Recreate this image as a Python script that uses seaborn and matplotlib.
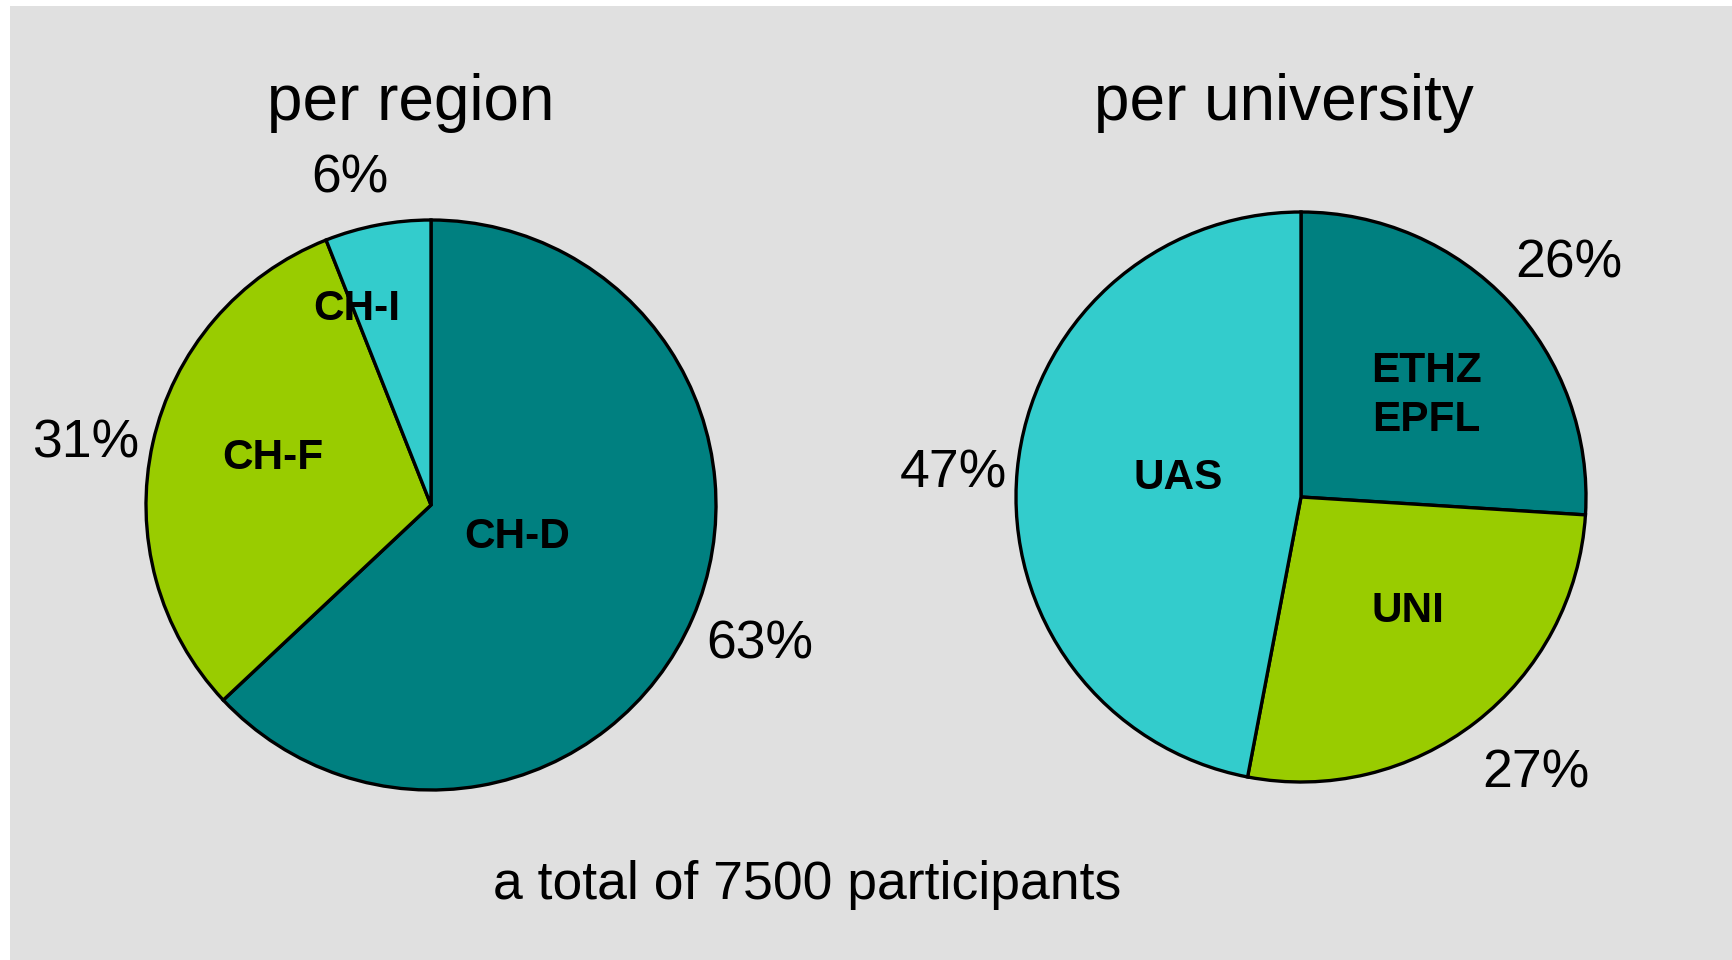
import matplotlib
matplotlib.use("Agg")
import matplotlib.pyplot as plt
import seaborn as sns
from matplotlib.patches import Rectangle

sns.set_theme(style="white")
plt.rcParams['font.family'] = ['Liberation Sans', 'DejaVu Sans']

# Data
region_labels = ["CH-D", "CH-F", "CH-I"]
region_values = [63, 31, 6]
univ_labels = ["ETHZ\nEPFL", "UNI", "UAS"]
univ_values = [26, 27, 47]
titles = ["per region", "per university"]
footer = "a total of 7500 participants"

colors_region = ["#008080", "#99CC00", "#33CCCC"]
colors_univ = ["#008080", "#99CC00", "#33CCCC"]

# label positions in pie data coords (radius = 1)
region_pct_pos = [(1.154, -0.489), (-1.211, 0.216), (-0.284, 1.146)]
region_lab_pos = [(0.302, -0.112), (-0.554, 0.165), (-0.260, 0.688)]
univ_pct_pos = [(0.94, 0.818), (0.825, -0.970), (-1.218, 0.083)]
univ_lab_pos = [(0.439, 0.356), (0.375, -0.399), (-0.432, 0.067)]

W, H = 1733, 960
fig = plt.figure(figsize=(W / 100, H / 100), dpi=100, facecolor="white")
fig.patches.append(Rectangle((10 / W, 0), 1 - 10 / W, 1 - 6 / H,
                             transform=fig.transFigure, facecolor="#E0E0E0",
                             edgecolor="none", zorder=-10))

def draw(ax_rect, values, labels, colors, pct_pos, lab_pos, title, title_xy):
    ax = fig.add_axes(ax_rect)
    ax.set_facecolor("none")
    ax.pie(values, colors=colors, startangle=90, counterclock=False,
           wedgeprops=dict(edgecolor="black", linewidth=2.4))
    ax.set_xlim(-1.0, 1.0)
    ax.set_ylim(-1.0, 1.0)
    ax.set_aspect("equal")
    ax.axis("off")
    for v, (x, y) in zip(values, pct_pos):
        ax.text(x, y, f"{v}%", ha="center", va="center", fontsize=38.5, color="black")
    for lab, (x, y) in zip(labels, lab_pos):
        ax.text(x, y, lab, ha="center", va="center", fontsize=30.5,
                fontweight="bold", color="black", linespacing=1.3)
    fig.text(title_xy[0], title_xy[1], title, ha="center", va="center",
             fontsize=46, color="black")

r = 285
lc = (431, 505)
rc = (1301, 497)
draw([(lc[0] - r) / W, (H - lc[1] - r) / H, 2 * r / W, 2 * r / H],
     region_values, region_labels, colors_region, region_pct_pos, region_lab_pos,
     titles[0], (411 / W, 1 - 103 / H))
draw([(rc[0] - r) / W, (H - rc[1] - r) / H, 2 * r / W, 2 * r / H],
     univ_values, univ_labels, colors_univ, univ_pct_pos, univ_lab_pos,
     titles[1], (1284 / W, 1 - 103 / H))

fig.text(807 / W, 1 - 885 / H, footer, ha="center", va="center",
         fontsize=38.5, color="black")

fig.savefig("out.png", dpi=100, facecolor=fig.get_facecolor())
